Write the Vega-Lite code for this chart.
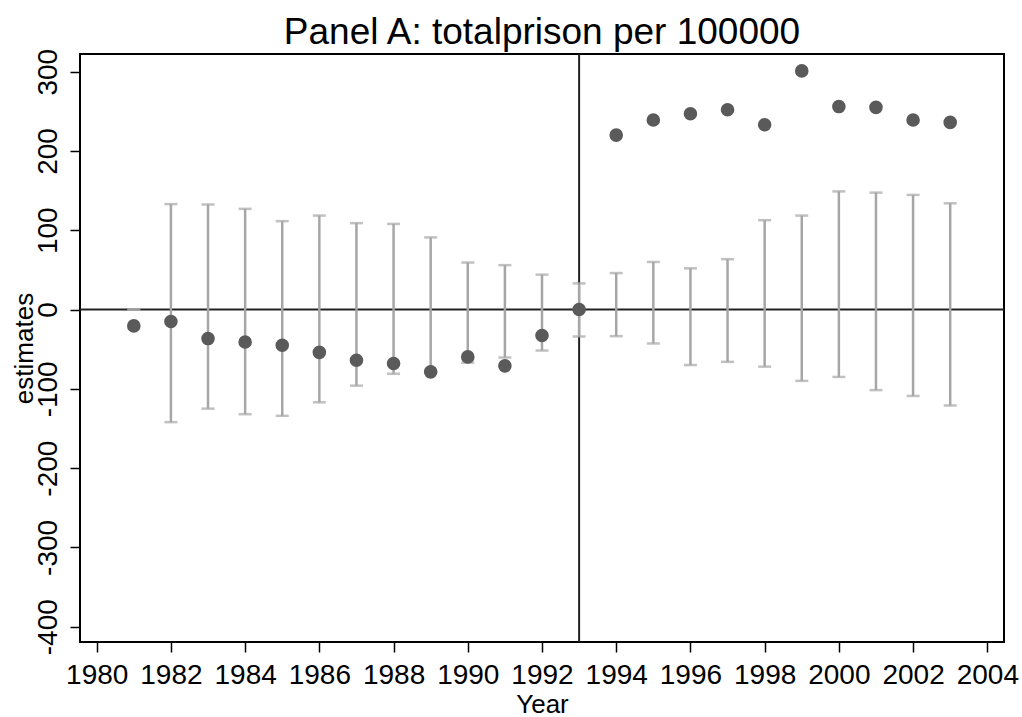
{
  "$schema": "https://vega.github.io/schema/vega-lite/v6.json",
  "autosize": "none",
  "width": 924,
  "height": 588,
  "padding": {"left": 80, "top": 54, "right": 18, "bottom": 75},
  "background": "white",
  "title": {
    "text": "Panel A: totalprison per 100000",
    "font": "Liberation Sans",
    "fontSize": 37,
    "fontWeight": "normal",
    "color": "#000000",
    "anchor": "middle",
    "offset": -4
  },
  "datasets": {
    "estimates": [
      {"year": 1981, "est": -20.6, "lo": 0, "hi": 0},
      {"year": 1982, "est": -15, "lo": -142, "hi": 133},
      {"year": 1983, "est": -36.6, "lo": -125, "hi": 132.5},
      {"year": 1984, "est": -41, "lo": -132, "hi": 127},
      {"year": 1985, "est": -45, "lo": -134, "hi": 111.5},
      {"year": 1986, "est": -54, "lo": -117, "hi": 118.5},
      {"year": 1987, "est": -64, "lo": -96, "hi": 109},
      {"year": 1988, "est": -68, "lo": -81, "hi": 108},
      {"year": 1989, "est": -78.6, "lo": -77, "hi": 91},
      {"year": 1990, "est": -59.7, "lo": -67, "hi": 59.3},
      {"year": 1991, "est": -71, "lo": -60.5, "hi": 56},
      {"year": 1992, "est": -32.8, "lo": -51.7, "hi": 44},
      {"year": 1993, "est": 0, "lo": -34, "hi": 33},
      {"year": 1994, "est": 220, "lo": -33.6, "hi": 46},
      {"year": 1995, "est": 239, "lo": -42.8, "hi": 60},
      {"year": 1996, "est": 247, "lo": -70, "hi": 52},
      {"year": 1997, "est": 252, "lo": -66, "hi": 63.5},
      {"year": 1998, "est": 233, "lo": -72, "hi": 112.7},
      {"year": 1999, "est": 301, "lo": -90, "hi": 118.5},
      {"year": 2000, "est": 256, "lo": -85, "hi": 149},
      {"year": 2001, "est": 255, "lo": -101.6, "hi": 147.5},
      {"year": 2002, "est": 239, "lo": -109, "hi": 144.6},
      {"year": 2003, "est": 236, "lo": -121, "hi": 134}
    ],
    "zeroline": [{"value": 0}],
    "treatyear": [{"year": 1993}]
  },
  "config": {
    "view": {"stroke": "#000000", "strokeWidth": 2},
    "font": "Liberation Sans",
    "axis": {
      "domain": false,
      "grid": false,
      "ticks": true,
      "tickColor": "#000000",
      "tickSize": 10,
      "tickWidth": 1.5,
      "labelFont": "Liberation Sans",
      "labelFontSize": 28,
      "labelColor": "#000000",
      "titleFont": "Liberation Sans",
      "titleFontSize": 26,
      "titleFontWeight": "normal",
      "titleColor": "#000000"
    }
  },
  "layer": [
    {
      "data": {"name": "zeroline"},
      "mark": {"type": "rule", "color": "#222222", "strokeWidth": 2},
      "encoding": {
        "y": {"field": "value", "type": "quantitative", "title": "estimates", "scale": {"domain": [-419.3, 322.3], "nice": false, "zero": false}}
      }
    },
    {
      "data": {"name": "treatyear"},
      "mark": {"type": "rule", "color": "#222222", "strokeWidth": 2},
      "encoding": {
        "x": {"field": "year", "type": "quantitative", "title": "Year", "scale": {"domain": [1979.55, 2004.45], "nice": false, "zero": false}}
      }
    },
    {
      "data": {"name": "estimates"},
      "mark": {
        "type": "errorbar",
        "color": "#a6a6a6",
        "ticks": {"size": 13, "thickness": 2.5, "color": "#a6a6a6"},
        "rule": {"strokeWidth": 2.5, "color": "#a6a6a6"}
      },
      "encoding": {
        "x": {"field": "year", "type": "quantitative", "title": "Year"},
        "y": {"field": "lo", "type": "quantitative", "title": "estimates"},
        "y2": {"field": "hi"}
      }
    },
    {
      "data": {"name": "estimates"},
      "mark": {"type": "circle", "size": 185, "color": "#5a5a5a", "opacity": 1},
      "encoding": {
        "x": {
          "field": "year",
          "type": "quantitative",
          "title": "Year",
          "scale": {"domain": [1979.55, 2004.45], "nice": false, "zero": false},
          "axis": {
            "title": "Year",
            "values": [1980, 1982, 1984, 1986, 1988, 1990, 1992, 1994, 1996, 1998, 2000, 2002, 2004],
            "labelExpr": "datum.value + ''",
            "labelPadding": 9,
            "titlePadding": 2
          }
        },
        "y": {
          "field": "est",
          "type": "quantitative",
          "title": "estimates",
          "scale": {"domain": [-419.3, 322.3], "nice": false, "zero": false},
          "axis": {
            "title": "estimates",
            "values": [-400, -300, -200, -100, 0, 100, 200, 300],
            "labelExpr": "datum.value + ''",
            "labelAngle": -90,
            "labelAlign": "center",
            "labelBaseline": "bottom",
            "labelPadding": 8,
            "titlePadding": -3
          }
        }
      }
    }
  ]
}
